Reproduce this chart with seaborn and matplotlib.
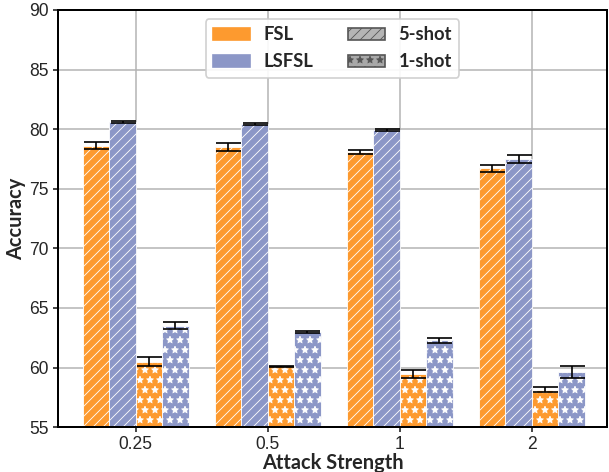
import pandas as pd
import matplotlib
matplotlib.use("Agg")
import matplotlib.pyplot as plt
import seaborn as sns
from matplotlib.patches import Patch

# Data
strengths = ["0.25", "0.5", "1", "2"]
fsl_5shot = [78.6, 78.5, 78.1, 76.7]
fsl_5shot_err = [0.3, 0.3, 0.15, 0.3]
lsfsl_5shot = [80.6, 80.4, 79.9, 77.5]
lsfsl_5shot_err = [0.1, 0.08, 0.08, 0.3]
fsl_1shot = [60.5, 60.1, 59.45, 58.15]
fsl_1shot_err = [0.35, 0.05, 0.35, 0.2]
lsfsl_1shot = [63.5, 63.0, 62.3, 59.6]
lsfsl_1shot_err = [0.3, 0.07, 0.2, 0.5]

series = ["FSL 5-shot", "LSFSL 5-shot", "FSL 1-shot", "LSFSL 1-shot"]
values = [fsl_5shot, lsfsl_5shot, fsl_1shot, lsfsl_1shot]
errors = [fsl_5shot_err, lsfsl_5shot_err, fsl_1shot_err, lsfsl_1shot_err]

orange = "#fd9a2f"
blue = "#8c97c7"
palette = {"FSL 5-shot": orange, "LSFSL 5-shot": blue,
           "FSL 1-shot": orange, "LSFSL 1-shot": blue}
hatches = ["////", "////", "**", "**"]

rows = []
for s, vals in zip(series, values):
    for k, v in zip(strengths, vals):
        rows.append({"Attack Strength": k, "Accuracy": v, "series": s})
df = pd.DataFrame(rows)

sns.set_style("ticks", {"axes.grid": True, "grid.color": "#b3b3b3",
                        "axes.edgecolor": "black"})
plt.rcParams["font.family"] = ["Liberation Sans", "DejaVu Sans"]
plt.rcParams["hatch.linewidth"] = 0.5

fig, ax = plt.subplots(figsize=(609 / 120, 472 / 120), dpi=120)
sns.barplot(data=df, x="Attack Strength", y="Accuracy", hue="series",
            hue_order=series, order=strengths, palette=palette,
            errorbar=None, saturation=1, width=0.8, ax=ax,
            edgecolor="white", linewidth=0.5, legend=False)

for cont, hatch, err in zip(ax.containers, hatches, errors):
    xs = []
    ys = []
    for bar in cont:
        bar.set_hatch(hatch)
        xs.append(bar.get_x() + bar.get_width() / 2)
        ys.append(bar.get_height())
    ax.errorbar(xs, ys, yerr=err, fmt="none", ecolor="black",
                elinewidth=1.0, capsize=7.5, capthick=1.0, zorder=5)

ax.set_ylim(55, 90)
ax.set_xlim(-0.59, 3.57)
ax.grid(True, axis="both", color="#b3b3b3", linewidth=0.9)
ax.set_axisbelow(True)
for sp in ax.spines.values():
    sp.set_linewidth(1.2)
    sp.set_color("black")
ax.tick_params(labelsize=10.5, length=3, width=1, pad=2.5)

lab_font = {"family": "Lato", "weight": "bold", "size": 12}
ax.set_xlabel("Attack Strength", fontdict=lab_font, labelpad=0)
ax.set_ylabel("Accuracy", fontdict=lab_font, labelpad=2)

handles = [
    Patch(facecolor=orange, edgecolor=orange, label="FSL"),
    Patch(facecolor=blue, edgecolor=blue, label="LSFSL"),
    Patch(facecolor="#b5b5b5", edgecolor="#555555", hatch="////", label="5-shot"),
    Patch(facecolor="#a8a8a8", edgecolor="#555555", hatch="**", label="1-shot"),
]
ax.legend(handles=handles, ncol=2, loc="upper center",
          bbox_to_anchor=(0.5, 1.0), prop={"family": "Lato", "weight": "bold", "size": 11},
          handlelength=2.0, handleheight=0.7, handletextpad=0.75,
          columnspacing=1.9, labelspacing=0.55,
          framealpha=0.9, edgecolor="#cccccc", fancybox=True)

fig.subplots_adjust(left=0.095, right=0.997, bottom=0.095, top=0.979)
fig.savefig("out.png", dpi=120)
